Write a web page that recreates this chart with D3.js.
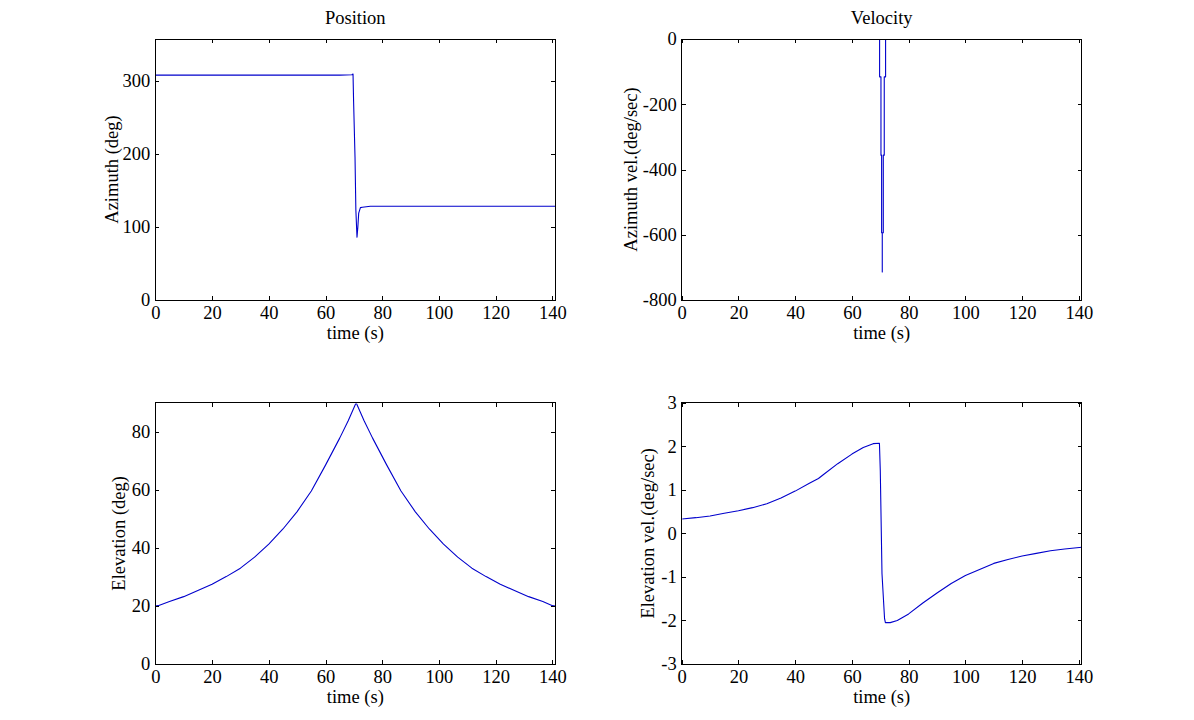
<!DOCTYPE html>
<html>
<head>
<meta charset="utf-8">
<script src="https://cdn.jsdelivr.net/npm/d3@7"></script>
<style>
  html, body { margin: 0; padding: 0; background: #fff; }
  svg { display: block; }
  text { font-family: "Liberation Serif", "Times New Roman", serif; fill: #000; }
</style>
</head>
<body>
<svg id="chart" width="1194" height="720"></svg>
<script>
// ---- Data ----
const xTicks = [0, 20, 40, 60, 80, 100, 120, 140];

const azTime = [0, 65, 69.3, 69.7, 69.9, 70.4, 70.7, 71.1, 71.4, 71.7, 72.3, 73, 75.8, 141];
const azValue = [308, 308, 308.5, 309.5, 272, 196, 123, 86, 100, 119, 126.5, 127, 128.5, 128.5];
const azTicks = [0, 100, 200, 300];

const azVelTime = [0, 69.76, 69.76, 70.24, 70.24, 70.47, 70.47, 70.7, 70.7, 70.7, 71.06, 71.06, 71.4, 71.4, 71.87, 71.87, 141];
const azVelValue = [0, 0, -116, -116, -356, -356, -594, -594, -714, -594, -594, -356, -356, -116, -116, 0, 0];
const azVelTicks = [-800, -600, -400, -200, 0];

const elTime = [0, 1, 5, 10, 15, 20, 25, 30, 35, 40, 45, 50, 55, 60, 65, 68, 70.8,
                73.6, 76.6, 81.6, 86.6, 91.6, 96.6, 101.6, 106.6, 111.6, 116.6, 121.6, 126.6, 131.6, 136.6, 140, 141];
const elValue = [20, 20.1, 21.5, 23.2, 25.3, 27.5, 30.1, 33, 36.8, 41.3, 46.5, 52.5, 59.6, 68.5, 77.8, 83.8, 90,
                 83.8, 77.8, 68.5, 59.6, 52.5, 46.5, 41.3, 36.8, 33, 30.1, 27.5, 25.3, 23.2, 21.5, 20.1, 20];
const elTicks = [0, 20, 40, 60, 80];

const elVelTime = [0, 5, 10, 15, 20, 25, 30, 35, 40, 45, 48.2, 50, 55, 60, 64, 67.5, 69.7,
                   70.0, 70.6, 71.5, 71.8, 73.5, 76, 80, 85, 90, 95, 100, 105, 110, 115, 120, 125, 130, 135, 141];
const elVelValue = [0.33, 0.36, 0.40, 0.46, 0.52, 0.59, 0.68, 0.81, 0.97, 1.15, 1.26, 1.35, 1.6, 1.82, 1.97, 2.06, 2.07,
                    1.45, -0.92, -1.95, -2.05, -2.05, -2.0, -1.85, -1.6, -1.37, -1.15, -0.97, -0.83, -0.69, -0.6, -0.52, -0.46, -0.4, -0.36, -0.32];
const elVelTicks = [-3, -2, -1, 0, 1, 2, 3];

const titles = ["Position", "Velocity"];
const xLabel = "time (s)";

// ---- Layout ----
const svg = d3.select("#chart");
const FONT = 18.5;
const LINE_COLOR = "#0000cc";

const panels = [
  { left: 155.3, top: 39, w: 400, h: 261, xDom: [0, 141], yDom: [0, 357.5], yTicks: azTicks,
    t: azTime, v: azValue, ylabel: "Azimuth (deg)", ylabOff: 37, title: titles[0] },
  { left: 681.7, top: 39, w: 400, h: 261, xDom: [0, 141], yDom: [-800, 0], yTicks: azVelTicks,
    t: azVelTime, v: azVelValue, ylabel: "Azimuth vel.(deg/sec)", ylabOff: 45, title: titles[1] },
  { left: 155.3, top: 402.7, w: 400, h: 261.3, xDom: [0, 141], yDom: [0, 90], yTicks: elTicks,
    t: elTime, v: elValue, ylabel: "Elevation (deg)", ylabOff: 30 },
  { left: 681.7, top: 402.7, w: 400, h: 261.3, xDom: [0, 141], yDom: [-3, 3], yTicks: elVelTicks,
    t: elVelTime, v: elVelValue, ylabel: "Elevation vel.(deg/sec)", ylabOff: 28 }
];

const fmt = d => String(d);   // plain hyphen-minus like the reference

panels.forEach((p, i) => {
  const g = svg.append("g").attr("transform", `translate(${p.left},${p.top})`);
  const x = d3.scaleLinear().domain(p.xDom).range([0, p.w]);
  const y = d3.scaleLinear().domain(p.yDom).range([p.h, 0]);

  const clipId = "clip" + i;
  g.append("clipPath").attr("id", clipId)
    .append("rect").attr("x", 0.6).attr("y", 0.9).attr("width", p.w - 0.6).attr("height", p.h - 1.2);

  const pts = p.t.map((t, k) => [t, p.v[k]]);
  g.append("path")
    .datum(pts)
    .attr("clip-path", `url(#${clipId})`)
    .attr("fill", "none")
    .attr("stroke", LINE_COLOR)
    .attr("stroke-width", 1.1)
    .attr("stroke-linejoin", "round")
    .attr("d", d3.line().x(d => x(d[0])).y(d => y(d[1])));

  // axes with inward ticks on all four sides
  const ax = g.append("g").attr("transform", `translate(0,${p.h})`)
    .call(d3.axisBottom(x).tickValues(xTicks).tickSizeInner(-4).tickSizeOuter(0).tickPadding(6).tickFormat(fmt));
  const ay = g.append("g")
    .call(d3.axisLeft(y).tickValues(p.yTicks).tickSizeInner(-4).tickSizeOuter(0).tickPadding(5).tickFormat(fmt));
  const axT = g.append("g")
    .call(d3.axisTop(x).tickValues(xTicks).tickSizeInner(-4).tickSizeOuter(0).tickFormat(""));
  const ayR = g.append("g").attr("transform", `translate(${p.w},0)`)
    .call(d3.axisRight(y).tickValues(p.yTicks).tickSizeInner(-4).tickSizeOuter(0).tickFormat(""));

  [ax, ay, axT, ayR].forEach(a => {
    a.select(".domain").remove();
    a.selectAll("line").attr("stroke", "#000").attr("shape-rendering", "crispEdges");
    a.selectAll("text").style("font-size", FONT + "px")
      .style("font-family", '"Liberation Serif", "Times New Roman", serif').attr("fill", "#000");
  });

  g.append("rect")
    .attr("x", 0).attr("y", 0).attr("width", p.w).attr("height", p.h)
    .attr("fill", "none").attr("stroke", "#000").attr("stroke-width", 1)
    .attr("shape-rendering", "crispEdges");

  // x label
  g.append("text")
    .attr("x", p.w / 2).attr("y", p.h + 39)
    .attr("text-anchor", "middle")
    .style("font-size", FONT + "px")
    .text(xLabel);

  // y label
  g.append("text")
    .attr("transform", `translate(${-p.ylabOff},${p.h / 2}) rotate(-90)`)
    .attr("text-anchor", "middle")
    .style("font-size", FONT + "px")
    .text(p.ylabel);

  if (p.title) {
    g.append("text")
      .attr("x", p.w / 2).attr("y", -15)
      .attr("text-anchor", "middle")
      .style("font-size", FONT + "px")
      .text(p.title);
  }
});
</script>
</body>
</html>
